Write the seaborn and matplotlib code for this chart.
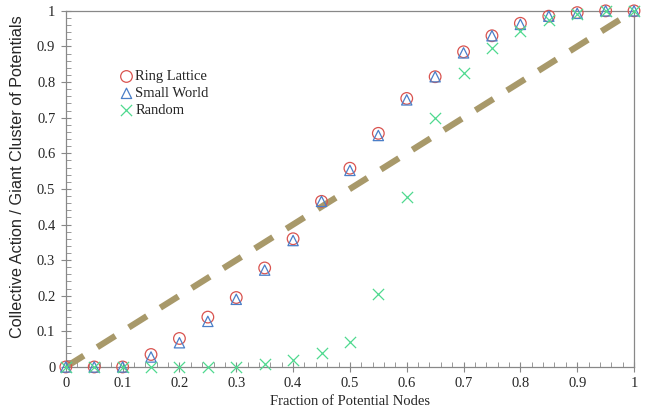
import numpy as np
import pandas as pd
import matplotlib
matplotlib.use('Agg')
import matplotlib.pyplot as plt
import seaborn as sns
from matplotlib.ticker import MultipleLocator, FuncFormatter

# Fraction of potential nodes (x) and the three network series
fraction = [0.0, 0.05, 0.1, 0.15, 0.2, 0.25, 0.3, 0.35, 0.4, 0.45, 0.5,
            0.55, 0.6, 0.65, 0.7, 0.75, 0.8, 0.85, 0.9, 0.95, 1.0]
ring_lattice = [0.0, 0.0, 0.0, 0.035, 0.08, 0.14, 0.195, 0.278, 0.36, 0.465, 0.558,
                0.656, 0.754, 0.815, 0.885, 0.93, 0.965, 0.985, 0.995, 1.0, 1.0]
small_world = [0.0, 0.0, 0.0, 0.028, 0.068, 0.128, 0.19, 0.272, 0.355, 0.465, 0.552,
               0.65, 0.75, 0.815, 0.882, 0.93, 0.962, 0.985, 0.993, 1.0, 1.0]
random_net = [0.0, 0.0, 0.0, 0.0, 0.0, 0.0, 0.0, 0.008, 0.02, 0.04, 0.07,
              0.205, 0.478, 0.70, 0.825, 0.895, 0.942, 0.975, 0.99, 1.0, 1.0]
diagonal_x = [0.0, 1.0]

df = pd.DataFrame({'Fraction': fraction, 'Ring Lattice': ring_lattice,
                   'Small World': small_world, 'Random': random_net})

sns.set_style('white')
plt.rcParams['font.family'] = ['Liberation Serif', 'DejaVu Serif']

fig, ax = plt.subplots(figsize=(6.45, 4.17), dpi=100)
fig.subplots_adjust(left=0.102, right=0.983, top=0.974, bottom=0.12)

# reference diagonal
sns.lineplot(x=diagonal_x, y=diagonal_x, ax=ax, color='#a8996a', linewidth=4.5,
             dashes=False, zorder=1)
ax.lines[-1].set_dashes([3.4, 2.55])
ax.lines[-1].set_dash_capstyle('butt')

sns.scatterplot(data=df, x='Fraction', y='Ring Lattice', ax=ax, marker='o', s=70,
                facecolors='none', edgecolor='#d9534f', linewidth=0.9,
                label='Ring Lattice', clip_on=False, zorder=3)
sns.scatterplot(data=df, x='Fraction', y='Small World', ax=ax, marker='^', s=55,
                facecolors='none', edgecolor='#4a7fc8', linewidth=0.9,
                label='Small World', clip_on=False, zorder=4)
sns.scatterplot(data=df, x='Fraction', y='Random', ax=ax, marker='x', s=65,
                color='#4fd98f', linewidth=0.9,
                label='Random', clip_on=False, zorder=5)

ax.set_xlim(0, 1)
ax.set_ylim(0, 1)
ax.xaxis.set_major_locator(MultipleLocator(0.1))
ax.yaxis.set_major_locator(MultipleLocator(0.1))
ax.xaxis.set_minor_locator(MultipleLocator(0.02))
ax.yaxis.set_minor_locator(MultipleLocator(0.02))
fmt = FuncFormatter(lambda v, p: '0' if abs(v) < 1e-9 else ('1' if abs(v - 1) < 1e-9 else f'{v:.1f}'))
ax.xaxis.set_major_formatter(fmt)
ax.yaxis.set_major_formatter(fmt)
ax.tick_params(which='major', direction='inout', length=7, width=0.8, color='#888888',
               labelsize=10.5, pad=4)
ax.tick_params(which='minor', direction='in', length=3.5, width=0.6, color='#888888')
ax.tick_params(axis='x', which='both', bottom=True)
ax.tick_params(axis='y', which='both', left=True)

for side in ['left', 'bottom', 'top', 'right']:
    ax.spines[side].set_color('#888888')
    ax.spines[side].set_linewidth(0.9)

ax.set_xlabel('Fraction of Potential Nodes', fontsize=10.5, labelpad=3)
ax.set_ylabel('Collective Action / Giant Cluster of Potentials', fontsize=11.7,
              family=['Liberation Sans Narrow', 'Liberation Sans', 'DejaVu Sans'])
ax.yaxis.set_label_coords(-0.072, 0.535)

leg = ax.legend(loc='upper left', bbox_to_anchor=(0.085, 0.85), frameon=False,
                fontsize=10.5, handlelength=0.9, handletextpad=0.15,
                labelspacing=0.25, borderaxespad=0)

plt.savefig('out.png', dpi=100)
